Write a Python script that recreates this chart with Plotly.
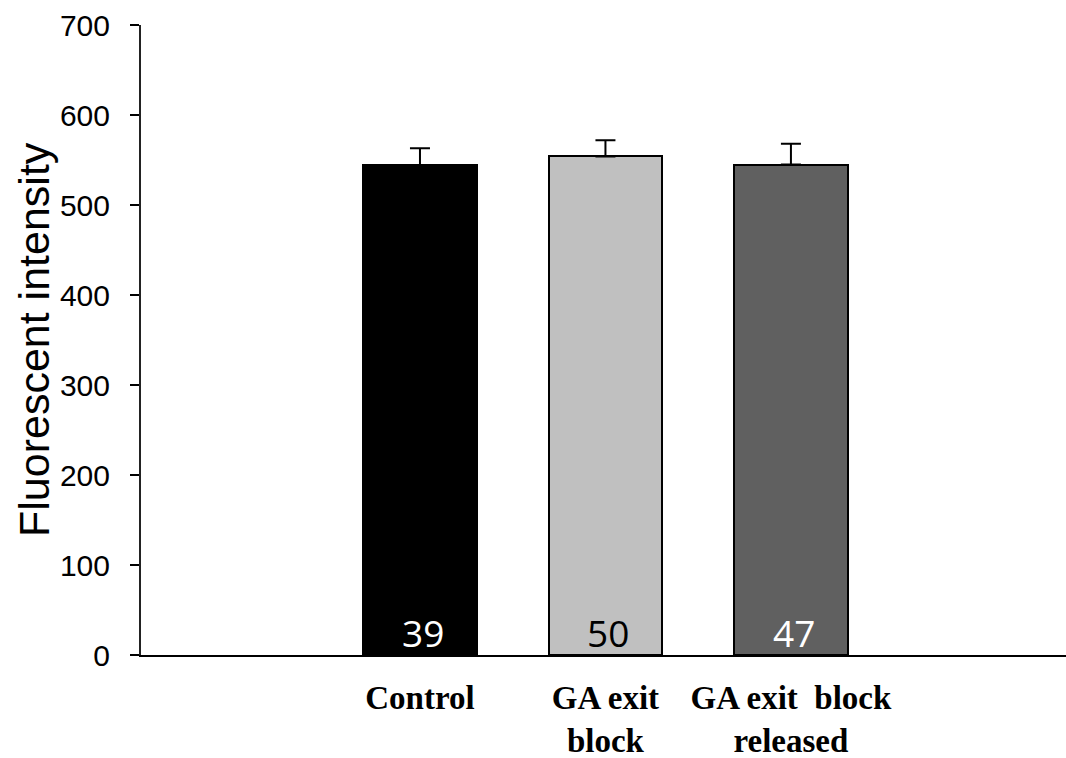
import plotly.graph_objects as go

categories = ["Control", "GA exit<br>block", "GA exit&nbsp;&nbsp;block<br>released"]
values = [544, 554, 545]
errors = [19, 18, 23]
counts = ["39", "50", "47"]
bar_colors = ["#000000", "#C0C0C0", "#606060"]
count_colors = ["#FFFFFF", "#000000", "#FFFFFF"]
y_ticks = [0, 100, 200, 300, 400, 500, 600, 700]

xpos = list(range(len(categories)))

fig = go.Figure()
fig.add_trace(go.Bar(
    x=xpos, y=values, width=0.61,
    marker=dict(color=bar_colors, line=dict(color="#000000", width=2)),
    error_y=dict(type="data", array=errors, arrayminus=[0] * len(errors), symmetric=False,
                 color="#000000", thickness=2, width=10),
    showlegend=False, hoverinfo="skip",
))

for xi, c, col in zip(xpos, counts, count_colors):
    fig.add_annotation(x=xi, y=25, xref="x", yref="y", text=c, showarrow=False,
                       xshift=3, yanchor="middle",
                       font=dict(family="Open Sans", size=37, color=col))

fig.add_annotation(x=-(141 - 34) / 925, y=0.5, xref="paper", yref="paper",
                   text="Fluorescent intensity", textangle=-90, showarrow=False,
                   xanchor="center", yanchor="middle",
                   font=dict(family="Liberation Sans", size=43, color="#000000"))

fig.update_layout(
    width=1066, height=758,
    margin=dict(l=141, r=0, t=25, b=103),
    paper_bgcolor="white", plot_bgcolor="white",
    bargap=0,
)
fig.update_xaxes(
    range=[-1.504, 3.483], tickvals=xpos, ticktext=categories,
    showline=True, linecolor="#000000", linewidth=2, ticks="", showgrid=False, zeroline=False,
    tickfont=dict(family="Liberation Serif", size=33, color="#000000", weight="bold"),
    ticklabelstandoff=12,
)
fig.update_yaxes(
    range=[0, 700], tickvals=y_ticks, ticktext=[str(v) for v in y_ticks],
    showline=True, linecolor="#222222", linewidth=2, ticks="outside", ticklen=9, tickwidth=2,
    tickcolor="#000000", showgrid=False, zeroline=False,
    tickfont=dict(family="Liberation Sans", size=30, color="#000000"),
    ticklabelstandoff=14,
)

fig.write_html("out.html")
